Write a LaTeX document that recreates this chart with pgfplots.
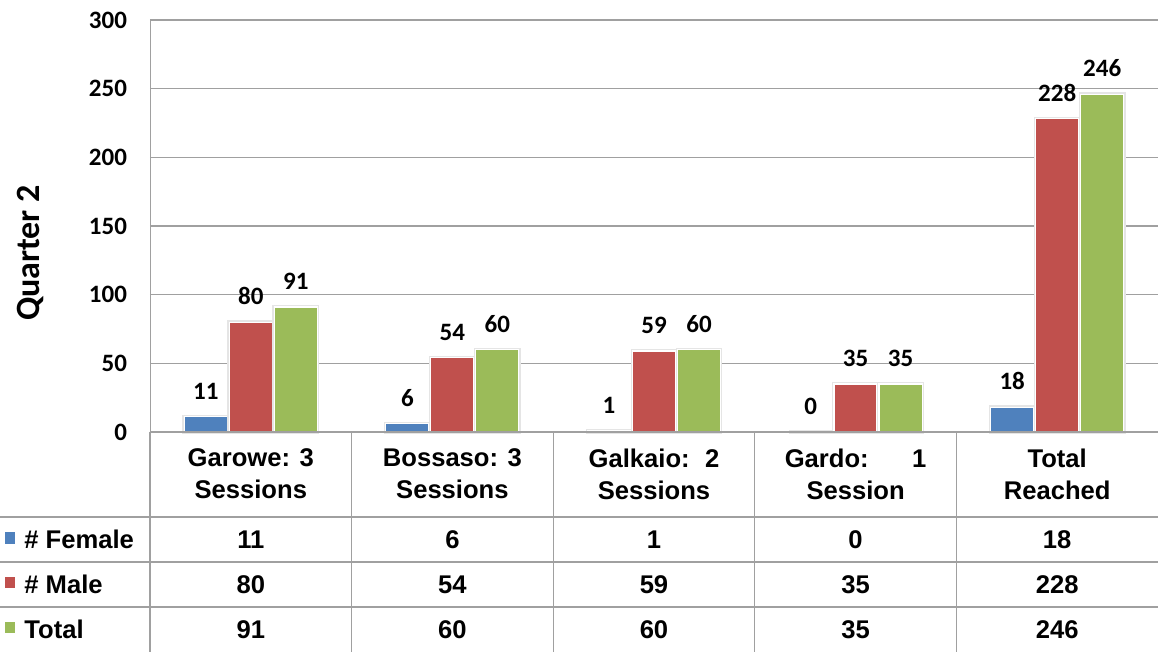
\documentclass[border=0pt]{standalone}
\usepackage{fontspec}
\setmainfont{Liberation Sans}
\newfontfamily\calibri{Carlito}
\usepackage{pgfplots}
\pgfplotsset{compat=1.18}

\definecolor{cfem}{RGB}{79,129,189}
\definecolor{cmale}{RGB}{192,80,77}
\definecolor{ctot}{RGB}{155,187,89}
\definecolor{cline}{RGB}{160,160,160}

\newcommand\tfont{\fontsize{12.8}{15}\selectfont\bfseries}

\begin{document}
\begin{tikzpicture}
% picture frame: 1158x652 px at 0.5pt/px, axis box corner at origin
\path[use as bounding box] (-75pt,-110pt) rectangle (504pt,216pt);
\begin{axis}[
    at={(0,0)}, anchor=south west,
    scale only axis,
    width=504pt, height=206pt,
    ybar=1pt, bar width=21.5pt,
    xmin=-0.5, xmax=4.5,
    ymin=0, ymax=300,
    ytick={0,50,...,300},
    xtick={0,...,4},
    xticklabels={{Garowe: 3\\Sessions},{Bossaso: 3\\Sessions},{Galkaio:\hspace{0.6em}2\\Sessions},{Gardo:\hspace{1.7em}1\\Session},{Total\\Reached}},
    xticklabel style={anchor=center, yshift=-21pt, align=center, font=\fontsize{12.8}{16}\selectfont\bfseries},
    major tick length=0pt,
    axis line style={cline},
    axis x line*=bottom, axis y line*=left,
    ymajorgrids, grid style={cline, line width=0.6pt},
    yticklabel style={font=\fontsize{12.5}{14}\selectfont\calibri\bfseries, xshift=-8pt},
    /pgf/number format/assume math mode=true,
    clip=false,
    nodes near coords,
    every node near coord/.append style={font=\fontsize{12.5}{14}\selectfont\calibri\bfseries, text=black, yshift=5pt},
    every axis plot/.append style={draw=white, line width=0.6pt, preaction={draw=black!10, line width=1.8pt}},
]
\addplot[fill=cfem] coordinates {(0,11) (1,6) (2,1) (3,0) (4,18)};
\addplot[fill=cmale] coordinates {(0,80) (1,54) (2,59) (3,35) (4,228)};
\addplot[fill=ctot] coordinates {(0,91) (1,60) (2,60) (3,35) (4,246)};

% data table grid
\draw[cline, line width=0.6pt] (axis cs:-0.5,0) -- (axis cs:4.5,0);
\draw[cline, line width=0.6pt] (axis cs:-1.25,-61.9) -- (axis cs:4.5,-61.9);
\draw[cline, line width=0.6pt] (axis cs:-1.25,-94.7) -- (axis cs:4.5,-94.7);
\draw[cline, line width=0.6pt] (axis cs:-1.25,-127.4) -- (axis cs:4.5,-127.4);
\pgfplotsinvokeforeach{-0.5,0.5,1.5,2.5,3.5}{
  \draw[cline, line width=0.6pt] (axis cs:#1,0) -- (axis cs:#1,-161);
}

% row labels with legend keys
\fill[cfem] ([xshift=-2.7pt,yshift=-2pt]axis cs:-1.194,-78.3) rectangle ++(5.4pt,5.6pt);
\fill[cmale] ([xshift=-2.7pt,yshift=-2pt]axis cs:-1.194,-111.0) rectangle ++(5.4pt,5.6pt);
\fill[ctot] ([xshift=-2.7pt,yshift=-2pt]axis cs:-1.194,-143.8) rectangle ++(5.4pt,5.6pt);
\node[anchor=west, inner sep=0pt, font=\tfont] at (axis cs:-1.125,-78.3) {\# Female};
\node[anchor=west, inner sep=0pt, font=\tfont] at (axis cs:-1.125,-111.0) {\# Male};
\node[anchor=west, inner sep=0pt, font=\tfont] at (axis cs:-1.125,-143.8) {Total};

% table values
\node[font=\tfont] at (axis cs:0,-78.3) {11};
\node[font=\tfont] at (axis cs:1,-78.3) {6};
\node[font=\tfont] at (axis cs:2,-78.3) {1};
\node[font=\tfont] at (axis cs:3,-78.3) {0};
\node[font=\tfont] at (axis cs:4,-78.3) {18};
\node[font=\tfont] at (axis cs:0,-111.0) {80};
\node[font=\tfont] at (axis cs:1,-111.0) {54};
\node[font=\tfont] at (axis cs:2,-111.0) {59};
\node[font=\tfont] at (axis cs:3,-111.0) {35};
\node[font=\tfont] at (axis cs:4,-111.0) {228};
\node[font=\tfont] at (axis cs:0,-143.8) {91};
\node[font=\tfont] at (axis cs:1,-143.8) {60};
\node[font=\tfont] at (axis cs:2,-143.8) {60};
\node[font=\tfont] at (axis cs:3,-143.8) {35};
\node[font=\tfont] at (axis cs:4,-143.8) {246};
\end{axis}
\node[rotate=90, font=\fontsize{17}{20}\selectfont\calibri\bfseries] at (-60pt,89.5pt) {Quarter 2};
\end{tikzpicture}
\end{document}
